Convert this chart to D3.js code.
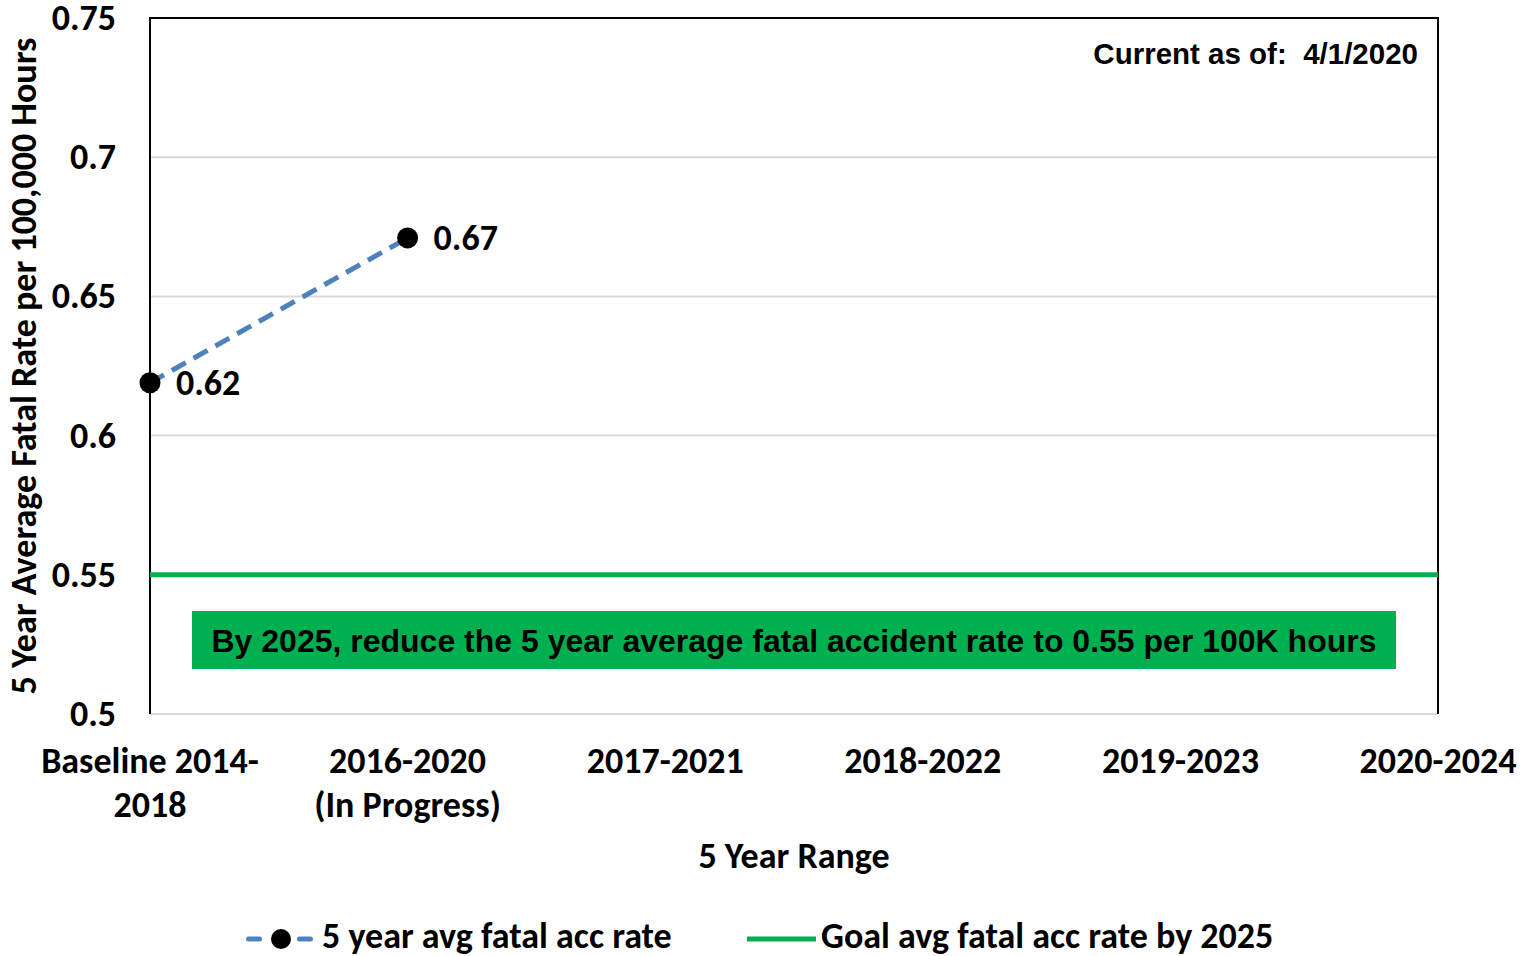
<!DOCTYPE html>
<html><head><meta charset="utf-8">
<script src="https://cdn.jsdelivr.net/npm/d3@7"></script>
<style>
html,body{margin:0;padding:0;background:#fff;}
svg{display:block;}
text{white-space:pre;}
</style></head>
<body>
<svg id="chart" width="1531" height="956"></svg>
<script>
const categories = [["Baseline 2014-","2018"],["2016-2020","(In Progress)"],["2017-2021"],["2018-2022"],["2019-2023"],["2020-2024"]];
const rateValues = [0.619, 0.671];
const goalValue = 0.55;
const yTicks = [0.5, 0.55, 0.6, 0.65, 0.7, 0.75];
const yTickLabels = ["0.5","0.55","0.6","0.65","0.7","0.75"];
const seriesNames = ["5 year avg fatal acc rate", "Goal avg fatal acc rate by 2025"];
const goalText = "By 2025, reduce the 5 year average fatal accident rate to 0.55 per 100K hours";
const currentText = "Current as of:  4/1/2020";
const yTitle = "5 Year Average Fatal Rate per 100,000 Hours";
const xTitle = "5 Year Range";

const svg = d3.select("#chart");
const L = 150, R = 1438, T = 18, B = 714;
const lab = "Carlito, 'Open Sans', Lato, sans-serif";
const FS = 36;
const arial = "'Liberation Sans', Arial, sans-serif";
const blue = "#4f81bd", green = "#00b050";

const x = d3.scalePoint().domain(d3.range(categories.length)).range([L, R]).padding(0);
const y = d3.scaleLinear().domain([0.5, 0.75]).range([B, T]);

// gridlines
svg.append("g").selectAll("line").data(yTicks).join("line")
  .attr("x1", L).attr("x2", R).attr("y1", d => y(d)).attr("y2", d => y(d))
  .attr("stroke", "#d9d9d9").attr("stroke-width", 2);

// frame (left, top, right)
svg.append("path").attr("d", `M${L},${B}V${T}H${R}V${B}`)
  .attr("fill", "none").attr("stroke", "#000").attr("stroke-width", 2);

// y axis labels
const yAxis = d3.axisLeft(y).tickValues(yTicks).tickFormat((d,i) => yTickLabels[i]).tickSize(0).tickPadding(34);
const ya = svg.append("g").attr("transform", `translate(${L},0)`).call(yAxis);
ya.select(".domain").remove();
ya.selectAll("text").attr("font-family", lab).attr("font-weight", "bold").attr("font-size", FS).attr("fill", "#000").attr("dy", "0.32em");

// x axis labels
const xa = svg.append("g");
categories.forEach((c, i) => {
  const t = xa.append("text").attr("x", x(i)).attr("y", 773).attr("text-anchor", "middle")
    .attr("font-family", lab).attr("font-weight", "bold").attr("font-size", FS).attr("fill", "#000");
  c.forEach((line, j) => t.append("tspan").attr("x", x(i)).attr("dy", j === 0 ? 0 : 44).text(line));
});

// axis titles
svg.append("text").attr("x", 794).attr("y", 868).attr("text-anchor", "middle")
  .attr("font-family", lab).attr("font-weight", "bold").attr("font-size", FS).text(xTitle);
svg.append("text").attr("transform", "translate(36,366) rotate(-90)").attr("text-anchor", "middle")
  .attr("font-family", lab).attr("font-weight", "bold").attr("font-size", FS).text(yTitle);

// goal line
svg.append("line").attr("x1", L).attr("x2", R).attr("y1", y(goalValue)).attr("y2", y(goalValue))
  .attr("stroke", green).attr("stroke-width", 5);

// goal box
svg.append("rect").attr("x", 192).attr("y", 611).attr("width", 1204).attr("height", 58).attr("fill", green);
svg.append("text").attr("x", 794).attr("y", 652).attr("text-anchor", "middle")
  .attr("font-family", arial).attr("font-weight", "bold").attr("font-size", 32).attr("fill", "#000").text(goalText);

// current as of
svg.append("text").attr("x", 1418).attr("y", 64).attr("text-anchor", "end")
  .attr("font-family", arial).attr("font-weight", "bold").attr("font-size", 29.5).attr("fill", "#000").text(currentText);

// series line
const line = d3.line().x((d,i) => x(i)).y(d => y(d));
svg.append("path").datum(rateValues).attr("d", line).attr("fill", "none")
  .attr("stroke", blue).attr("stroke-width", 5).attr("stroke-dasharray", "16,9");
svg.append("g").selectAll("circle").data(rateValues).join("circle")
  .attr("cx", (d,i) => x(i)).attr("cy", d => y(d)).attr("r", 10.5).attr("fill", "#000");
svg.append("g").selectAll("text").data(rateValues).join("text")
  .attr("x", (d,i) => x(i) + 26).attr("y", d => y(d) + 12)
  .attr("font-family", lab).attr("font-weight", "bold").attr("font-size", FS).attr("fill", "#000")
  .text(d => d3.format(".2f")(d));

// legend
const lg = svg.append("g");
lg.append("line").attr("x1", 248.5).attr("x2", 311).attr("y1", 939).attr("y2", 939)
  .attr("stroke", blue).attr("stroke-width", 5).attr("stroke-linecap", "round").attr("stroke-dasharray", "11,40");
lg.append("circle").attr("cx", 281).attr("cy", 939).attr("r", 10).attr("fill", "#000");
lg.append("text").attr("x", 322).attr("y", 948).attr("font-family", lab).attr("font-weight", "bold").attr("font-size", FS).text(seriesNames[0]);
lg.append("line").attr("x1", 747).attr("x2", 816).attr("y1", 939).attr("y2", 939)
  .attr("stroke", green).attr("stroke-width", 5);
lg.append("text").attr("x", 821).attr("y", 948).attr("font-family", lab).attr("font-weight", "bold").attr("font-size", FS).text(seriesNames[1]);
</script>
</body></html>
